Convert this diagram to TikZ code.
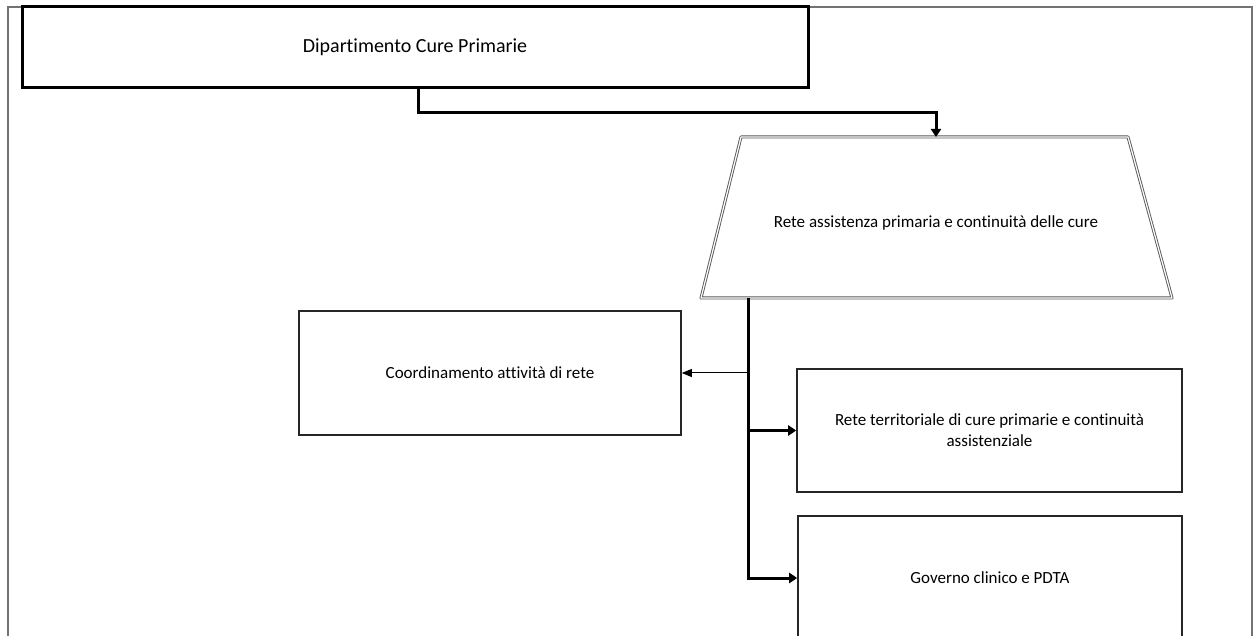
\documentclass[tikz,border=0pt]{standalone}
\usepackage{fontspec}
\setmainfont[Ligatures=NoCommon]{Carlito}
\usetikzlibrary{arrows.meta}
\begin{document}
\begin{tikzpicture}[x=1pt,y=-1pt,
  every node/.style={font=\fontsize{17}{21}\selectfont, text=black},
  boxthick/.style={draw=black, line width=3pt, inner sep=0pt},
  boxthin/.style={draw=black!85, line width=1.6pt, inner sep=0pt, align=center},
  conn/.style={draw=black, line width=3pt, -{Triangle[width=10pt,length=8pt]}},
  thinconn/.style={draw=black, line width=1pt, -{Triangle[width=8pt,length=10pt]}},
  trap/.style={draw=black!65, double=white, double distance=1.2pt, line width=0.9pt, line join=round},
  frame/.style={draw=black!55, line width=1.3pt}]
\clip (0,0) rectangle (1254,636);
\useasboundingbox (0,0) rectangle (1254,636);
\fill[white] (0,0) rectangle (1254,636);

% outer page frame, open at the bottom
\draw[frame] (8,640) -- (8,7) -- (1252,7) -- (1252,640);

% department box
\node[boxthick, minimum width=786pt, minimum height=81pt, font=\fontsize{20}{24}\selectfont] (dip) at (415,47.5) {Dipartimento Cure Primarie};

% primary-care network (trapezium)
\coordinate (tTL) at (741,137);
\coordinate (tTR) at (1128,137);
\coordinate (tBR) at (1172,298);
\coordinate (tBL) at (701,298);
\draw[trap] (tTL) -- (tTR) -- (tBR) -- (tBL) -- cycle;
\node (rete) at (936,223) {Rete assistenza primaria e continuità delle cure};

% child boxes
\node[boxthin, minimum width=382pt, minimum height=124pt] (coord) at (490,373) {Coordinamento attività di rete};
\node[boxthin, minimum width=385pt, minimum height=123pt] (terr) at (989.5,430.5) {Rete territoriale di cure primarie e continuità\\assistenziale};
\node[boxthin, minimum width=384pt, minimum height=124pt] (gov) at (990,578) {Governo clinico e PDTA};

% connectors
\coordinate (j1) at (418,113);
\coordinate (tIn) at (936,137);
\draw[conn] (dip.south -| j1) -- (j1) -| (tIn);

\coordinate (trunkTop) at (748,298);
\coordinate (trunkBot) at (748,578);
\draw[black, line width=3pt] (trunkTop) -- (trunkBot);
\draw[thinconn] (trunkTop |- coord.east) -- (coord.east);
\draw[conn] (trunkTop |- terr.west) -- (terr.west);
\draw[conn] ([xshift=-1.5pt]trunkBot) -- (gov.west);
\end{tikzpicture}
\end{document}
